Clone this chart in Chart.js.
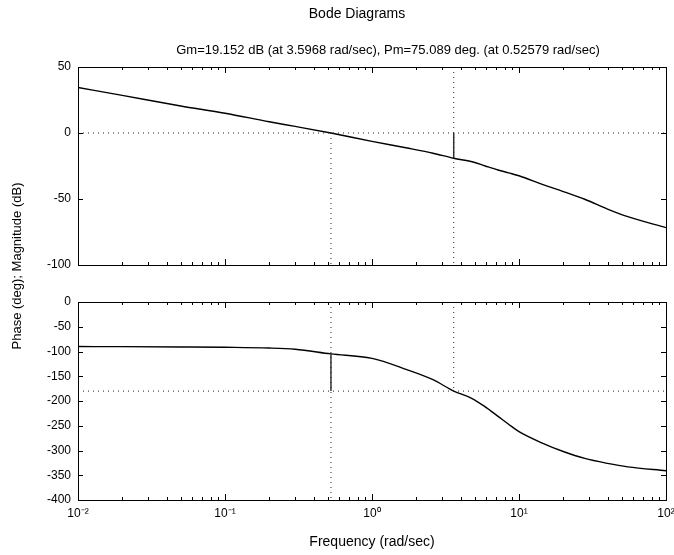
<!DOCTYPE html>
<html>
<head>
<meta charset="utf-8">
<script src="https://cdn.jsdelivr.net/npm/chart.js@4.4.1/dist/chart.umd.min.js"></script>
<style>
body { margin: 0; background: #fff; }
#wrap { position: relative; width: 674px; height: 555px; }
#wrap canvas { position: absolute; left: 0; top: 0; }
</style>
</head>
<body>
<div id="wrap">
  <canvas id="mag" width="674" height="555"></canvas>
  <canvas id="phase" width="674" height="555"></canvas>
</div>
<script>
// values
var freq    = [0.01, 0.02, 0.05, 0.1, 0.2, 0.3, 0.52579, 1, 1.7, 2.6, 3.5968, 4.8, 5.9, 7.2, 8.5, 10, 14.4, 20, 28, 40, 55, 100];
var magDb   = [34.5, 28.5, 20.5, 15, 8.5, 5, 0, -6.3, -11.2, -15.3, -19.15, -21.8, -25, -28, -30.2, -32.4, -38.9, -44.4, -50.2, -57.6, -63.4, -71.7];
var phaseDeg = [-90, -90.2, -90.8, -91.5, -93, -95.6, -104.9, -114, -136, -157, -180, -195, -212, -231, -247, -262, -285, -302, -316, -326, -333, -341];

// margins (from the title)
var gmDb = 19.152, gmFreq = 3.5968;
var pmDeg = 75.089, pmFreq = 0.52579;

var freqRange = [0.01, 100];
var magRange = [-100, 50];
var phaseRange = [-400, 0];
var xTickValues = [0.01, 0.1, 1, 10, 100];
var xTickLabels = ['10\u207B\u00B2', '10\u207B\u00B9', '10\u2070', '10\u00B9', '10\u00B2'];

var figTitle = 'Bode Diagrams';
var marginTitle = 'Gm=' + gmDb + ' dB (at ' + gmFreq + ' rad/sec), Pm=' + pmDeg +
  ' deg. (at ' + pmFreq + ' rad/sec)';
var yLabel = 'Phase (deg); Magnitude (dB)';
var xLabel = 'Frequency (rad/sec)';

var FONT = '"Liberation Sans", Arial, Helvetica, sans-serif';

function pts(xs, ys) {
  return xs.map(function (v, i) { return { x: v, y: ys[i] }; });
}

function dotted(data) {
  return { data: data, borderColor: '#222', borderWidth: 1, borderDash: [1, 4], pointRadius: 0, fill: false };
}

// frame + inward ticks, matlab style
var inTicks = {
  id: 'inTicks',
  afterDraw: function (chart) {
    var a = chart.chartArea, ctx = chart.ctx;
    var xs = chart.scales.x, ys = chart.scales.y;
    ctx.save();
    ctx.strokeStyle = '#000';
    ctx.lineWidth = 1;
    ctx.strokeRect(Math.round(a.left) + 0.5, Math.round(a.top) + 0.5,
      Math.round(a.right - a.left), Math.round(a.bottom - a.top));
    ctx.beginPath();
    for (var d = -2; d <= 2; d++) {
      for (var m = 1; m <= 9; m++) {
        var v = m * Math.pow(10, d);
        if (v > freqRange[1] * 1.0001) break;
        var px = Math.round(xs.getPixelForValue(v)) + 0.5;
        var len = m == 1 ? 6 : 3;
        ctx.moveTo(px, a.bottom); ctx.lineTo(px, a.bottom - len);
        ctx.moveTo(px, a.top); ctx.lineTo(px, a.top + len);
      }
    }
    ys.ticks.forEach(function (t) {
      var py = Math.round(ys.getPixelForValue(t.value)) + 0.5;
      ctx.moveTo(a.left, py); ctx.lineTo(a.left + 5, py);
      ctx.moveTo(a.right, py); ctx.lineTo(a.right - 5, py);
    });
    ctx.stroke();
    ctx.restore();
  }
};

var bodeText = {
  id: 'bodeText',
  afterDraw: function (chart) {
    var ctx = chart.ctx;
    ctx.save();
    ctx.fillStyle = '#000';
    ctx.textAlign = 'center';
    ctx.textBaseline = 'middle';
    ctx.font = '14px ' + FONT;
    ctx.fillText(figTitle, 357, 14);
    ctx.font = '13px ' + FONT;
    ctx.fillText(marginTitle, 388, 50);
    ctx.translate(17, 266);
    ctx.rotate(-Math.PI / 2);
    ctx.fillText(yLabel, 0, 0);
    ctx.restore();
  }
};

function xScale(showLabels) {
  return {
    type: 'logarithmic',
    min: freqRange[0],
    max: freqRange[1],
    grid: { display: false, drawTicks: false },
    border: { display: false },
    afterBuildTicks: function (scale) {
      scale.ticks = xTickValues.map(function (v) { return { value: v }; });
    },
    afterFit: function (scale) {
      scale.height = showLabels ? 55 : 0;
      scale.paddingLeft = 0;
      scale.paddingRight = 0;
    },
    ticks: {
      display: showLabels,
      autoSkip: false,
      maxRotation: 0,
      padding: 6,
      color: '#000',
      font: { family: FONT, size: 12 },
      callback: function (value, index) { return xTickLabels[index]; }
    },
    title: {
      display: showLabels,
      text: xLabel,
      color: '#000',
      font: { family: FONT, size: 14 },
      padding: { top: 4, bottom: 4 }
    }
  };
}

function yScale(range) {
  return {
    min: range[0],
    max: range[1],
    grid: { display: false, drawTicks: false },
    border: { display: false },
    afterFit: function (scale) { scale.width = 78; },
    ticks: {
      stepSize: 50,
      padding: 7,
      color: '#000',
      font: { family: FONT, size: 12 }
    }
  };
}

var common = {
  responsive: false,
  animation: false,
  parsing: false,
  plugins: { legend: { display: false }, tooltip: { enabled: false } }
};

new Chart(document.getElementById('mag').getContext('2d'), {
  type: 'line',
  data: {
    datasets: [
      dotted([{ x: freqRange[0], y: 0 }, { x: freqRange[1], y: 0 }]),
      dotted([{ x: pmFreq, y: 0 }, { x: pmFreq, y: magRange[0] }]),
      dotted([{ x: gmFreq, y: magRange[1] }, { x: gmFreq, y: magRange[0] }]),
      { data: [{ x: gmFreq, y: 0 }, { x: gmFreq, y: -gmDb }], borderColor: '#333', borderWidth: 1.5, pointRadius: 0 },
      { data: pts(freq, magDb), borderColor: '#000', borderWidth: 1.4, pointRadius: 0, cubicInterpolationMode: 'monotone' }
    ]
  },
  options: Object.assign({}, common, {
    layout: { padding: { left: 0, right: 8, top: 67, bottom: 290 } },
    scales: { x: xScale(false), y: yScale(magRange) }
  }),
  plugins: [inTicks]
});

new Chart(document.getElementById('phase').getContext('2d'), {
  type: 'line',
  data: {
    datasets: [
      dotted([{ x: freqRange[0], y: -180 }, { x: freqRange[1], y: -180 }]),
      dotted([{ x: pmFreq, y: phaseRange[1] }, { x: pmFreq, y: phaseRange[0] }]),
      dotted([{ x: gmFreq, y: phaseRange[1] }, { x: gmFreq, y: -180 }]),
      { data: [{ x: pmFreq, y: -180 }, { x: pmFreq, y: -180 + pmDeg }], borderColor: '#333', borderWidth: 1.5, pointRadius: 0 },
      { data: pts(freq, phaseDeg), borderColor: '#000', borderWidth: 1.4, pointRadius: 0, cubicInterpolationMode: 'monotone' }
    ]
  },
  options: Object.assign({}, common, {
    layout: { padding: { left: 0, right: 8, top: 302, bottom: 0 } },
    scales: { x: xScale(true), y: yScale(phaseRange) }
  }),
  plugins: [inTicks, bodeText]
});
</script>
</body>
</html>
